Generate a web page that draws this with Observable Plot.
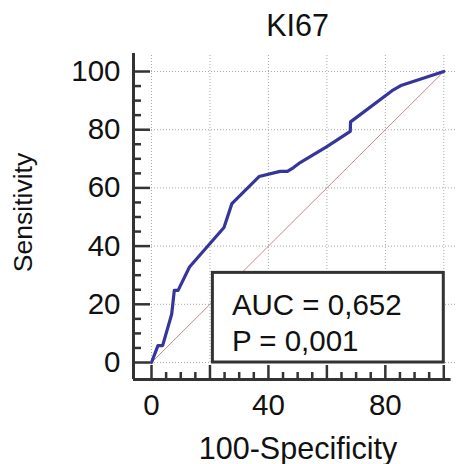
<!DOCTYPE html>
<html><head><meta charset="utf-8">
<script src="https://cdn.jsdelivr.net/npm/d3@7"></script>
<script src="https://cdn.jsdelivr.net/npm/@observablehq/plot@0.6"></script>
<style>html,body{margin:0;padding:0;background:#fff}</style>
</head><body><div id="chart"></div>
<script>
// ---- data ----
const title = "KI67";
const xLabel = "100-Specificity";
const yLabel = "Sensitivity";
const rocX = [0, 2.2, 3.8, 6.9, 7.8, 9.1, 13, 24.8, 27.5, 36.8, 44, 46.5, 48.6, 51, 60, 68, 68.1, 82.3, 85.6, 100];
const rocY = [0, 5.8, 5.8, 16.6, 24.8, 24.8, 32.8, 46.4, 54.6, 63.9, 65.7, 65.7, 67, 68.8, 74.2, 79.4, 82.7, 93.4, 95.3, 100];
const diagonal = [0, 100];
const xMajor = [0, 20, 40, 60, 80, 100];
const yMajor = [0, 20, 40, 60, 80, 100];
const xTickLabels = [0, 40, 80];
const yTickLabels = [0, 20, 40, 60, 80, 100];
const statsLines = ["AUC = 0,652", "P = 0,001"];

// ---- derived ----
const roc = rocX.map((x, i) => ({x, y: rocY[i]}));
const xMinor = d3.range(0, 101, 5).filter(d => d % 20 !== 0);
const yMinor = d3.range(0, 101, 5).filter(d => d % 20 !== 0);

const W = 457, H = 464;
const mL = 133, mR = 0, mT = 53, mB = 85;
const frameW = W - mL - mR, frameH = H - mT - mB;
const xMin = -6.16, xMax = 104.69;
const yMin = -5.84, yMax = 106.19;
const axisColor = "#333";
const font = "'Liberation Sans', Arial, Helvetica, sans-serif";

const chart = Plot.plot({
  width: W, height: H,
  marginLeft: mL, marginRight: mR, marginTop: mT, marginBottom: mB,
  x: {domain: [xMin, xMax], axis: null},
  y: {domain: [yMin, yMax], axis: null},
  style: {fontFamily: font, background: "#fff", color: "#111"},
  marks: [
    // grid
    Plot.ruleY(yMajor, {y: d => d, stroke: "#aaa", strokeWidth: 1, strokeDasharray: "1,2"}),
    Plot.ruleX(xMajor, {x: d => d, y1: 0, y2: yMax, stroke: "#aaa", strokeWidth: 1, strokeDasharray: "1,2"}),
    // reference diagonal
    Plot.line(diagonal, {x: d => d, y: d => d, stroke: "#c48a8a", strokeWidth: 1}),
    // ROC curve
    Plot.line(roc, {x: "x", y: "y", stroke: "#35359a", strokeWidth: 3.2, strokeLinejoin: "round"}),
    // stats box
    Plot.rect([0], {x1: 21, x2: 100, y1: 0, y2: 30.8, fill: "white", stroke: axisColor, strokeWidth: 3}),
    Plot.text([statsLines.join("\n")], {x: 21, y: 30.8, dx: 19, dy: 16, textAnchor: "start", lineAnchor: "top",
      lineHeight: 36.6 / 29.5, fontSize: 29.5, fill: "#111"}),
    // axis lines
    Plot.ruleX([xMin], {stroke: axisColor, strokeWidth: 3}),
    Plot.ruleY([yMin], {x1: xMin, x2: 102.5, stroke: axisColor, strokeWidth: 3}),
    // ticks
    Plot.tickY(yMajor, {y: d => d, insetRight: frameW - 17, stroke: axisColor, strokeWidth: 2.5}),
    Plot.tickY(yMinor, {y: d => d, insetRight: frameW - 8, stroke: axisColor, strokeWidth: 2.5}),
    Plot.tickX(xMajor, {x: d => d, insetTop: frameH - 14, stroke: axisColor, strokeWidth: 2.5}),
    Plot.tickX(xMinor, {x: d => d, insetTop: frameH - 7, stroke: axisColor, strokeWidth: 2.5}),
    // tick labels
    Plot.text(yTickLabels, {y: d => d, text: d => String(d), frameAnchor: "left", textAnchor: "end",
      lineAnchor: "middle", dx: -13, fontSize: 29.5, fill: "#111"}),
    Plot.text(xTickLabels, {x: d => d, text: d => String(d), frameAnchor: "bottom", lineAnchor: "bottom",
      dy: 35, fontSize: 29.5, fill: "#111"}),
    // axis titles and chart title
    Plot.text([xLabel], {frameAnchor: "bottom", lineAnchor: "bottom", dx: 2.5, dy: 79, fontSize: 30.5, fill: "#111"}),
    Plot.text([yLabel], {frameAnchor: "left", rotate: -90, textAnchor: "middle", lineAnchor: "bottom",
      dx: -101.5, dy: -4, fontSize: 26.5, fill: "#111"}),
    Plot.text([title], {frameAnchor: "top", lineAnchor: "bottom", dx: 2, dy: -18, fontSize: 30.5, fill: "#111"})
  ]
});
document.getElementById("chart").appendChild(chart);
</script>
</body></html>
